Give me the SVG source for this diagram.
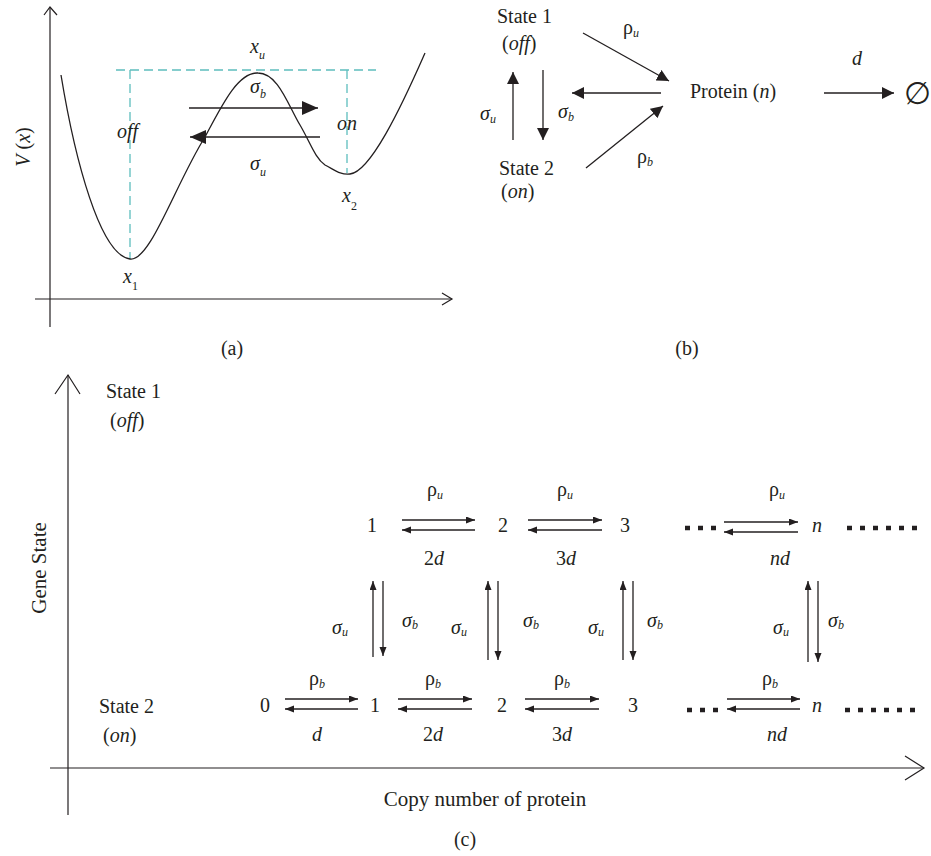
<svg xmlns="http://www.w3.org/2000/svg" width="931" height="856" viewBox="0 0 931 856">
<defs>
<style>
text{font-family:"Liberation Serif","DejaVu Serif",serif;font-size:20px;fill:#231f20}
.it{font-style:italic}
.sub{font-size:12px;font-style:italic}
.subn{font-size:12px;font-style:normal}
.mid{text-anchor:middle}
.big{font-size:21px}
.ln{stroke:#231f20;stroke-width:1.3;fill:none}
.ax{stroke:#231f20;stroke-width:1.2;fill:none}
.dash{stroke:#5dbdbd;stroke-width:1.3;fill:none;stroke-dasharray:9 5}
.dots{stroke:#231f20;stroke-width:4.5;stroke-dasharray:5 8;fill:none}
.hc{marker-end:url(#hc)}
.hb{marker-end:url(#hb)}
.ha{marker-end:url(#ha)}
</style>
<marker id="hc" markerUnits="userSpaceOnUse" markerWidth="10" markerHeight="8" refX="9" refY="3.5" orient="auto"><path d="M0,0 L9,3.5 L0,7 z" fill="#231f20"/></marker>
<marker id="hb" markerUnits="userSpaceOnUse" markerWidth="13" markerHeight="12" refX="12" refY="6" orient="auto"><path d="M0,0 L12,6 L0,12 z" fill="#231f20"/></marker>
<marker id="ha" markerUnits="userSpaceOnUse" markerWidth="17" markerHeight="15" refX="16" refY="7" orient="auto"><path d="M0,0 L16,7 L0,14 z" fill="#231f20"/></marker>
</defs>
<rect width="931" height="856" fill="#ffffff"/>

<!-- Panel (a) -->
<g id="panel-a">
  <g id="a-axes">
    <line class="ax" x1="50" y1="7" x2="50" y2="327"/>
    <polyline class="ax" points="44,15 50,7 57,15"/>
    <line class="ax" x1="35" y1="299" x2="452" y2="299"/>
    <polyline class="ax" points="442,293 452,299 442,305"/>
    <text transform="translate(30,147) rotate(-90)" class="mid"><tspan class="it">V</tspan> (<tspan class="it">x</tspan>)</text>
  </g>
  <g id="a-guides">
    <line class="dash" x1="116" y1="70" x2="376" y2="70"/>
    <line class="dash" x1="130" y1="70" x2="130" y2="259"/>
    <line class="dash" x1="347" y1="70" x2="347" y2="173"/>
  </g>
  <path id="a-potential" class="ln" d="M61,75 C75,160 100,255 130,259 C150,262 175,185 205,137 C222,105 238,72 258,73 C278,73 288,105 300,125 C310,142 315,158 325,165 C335,170 340,175 350,174 C370,172 400,110 425,53"/>
  <g id="a-arrows">
    <line class="ln ha" x1="189" y1="108" x2="318" y2="108"/>
    <line class="ln ha" x1="320" y1="137" x2="190" y2="137"/>
  </g>
  <text x="250" y="53"><tspan class="it">x</tspan><tspan class="sub" dy="6">u</tspan></text>
  <text x="250" y="93"><tspan class="it">σ</tspan><tspan class="sub" dy="5">b</tspan></text>
  <text x="250" y="170"><tspan class="it">σ</tspan><tspan class="sub" dy="6">u</tspan></text>
  <text x="117" y="138" class="it">off</text>
  <text x="337" y="130" class="it">on</text>
  <text x="342" y="202"><tspan class="it">x</tspan><tspan class="subn" dy="8">2</tspan></text>
  <text x="123" y="283"><tspan class="it">x</tspan><tspan class="subn" dy="7">1</tspan></text>
  <text x="232" y="355" class="mid">(a)</text>
</g>

<!-- Panel (b) -->
<g id="panel-b">
  <g id="b-state1"><text x="497" y="23">State 1</text><text x="502" y="50">(<tspan class="it">off</tspan>)</text></g>
  <g id="b-state2"><text x="499" y="175">State 2</text><text x="501" y="198">(<tspan class="it">on</tspan>)</text></g>
  <g id="b-protein"><text x="690" y="98">Protein (<tspan class="it">n</tspan>)</text></g>
  <g id="b-empty"><text x="917" y="104" class="mid" style="font-size:31px;font-family:'DejaVu Serif','Liberation Serif',serif">∅</text></g>
  <g id="b-connectors">
    <line class="ln hb" x1="583" y1="33" x2="669" y2="81"/>
    <line class="ln hb" x1="661" y1="93" x2="572" y2="93"/>
    <line class="ln hb" x1="586" y1="168" x2="663" y2="106"/>
    <line class="ln hb" x1="513" y1="140" x2="513" y2="72"/>
    <line class="ln hb" x1="543" y1="70" x2="543" y2="140"/>
    <line class="ln hb" x1="824" y1="93" x2="894" y2="93"/>
  </g>
  <text x="623" y="34">ρ<tspan class="sub" dy="3">u</tspan></text>
  <text x="637" y="163">ρ<tspan class="sub" dy="3">b</tspan></text>
  <text x="480" y="120"><tspan class="it">σ</tspan><tspan class="sub" dy="3">u</tspan></text>
  <text x="558" y="118"><tspan class="it">σ</tspan><tspan class="sub" dy="3">b</tspan></text>
  <text x="852" y="65" class="it">d</text>
  <text x="687" y="355" class="mid">(b)</text>
</g>

<!-- Panel (c) -->
<g id="panel-c">
  <g id="c-axes">
    <line class="ax" x1="68" y1="375" x2="68" y2="815"/>
    <polyline class="ax" points="55,394 68,375 80,394"/>
    <line class="ax" x1="50" y1="768" x2="924" y2="768"/>
    <polyline class="ax" points="905,756 924,768 905,780"/>
    <text transform="translate(46,568) rotate(-90)" class="mid big">Gene State</text>
    <text x="485" y="806" class="mid big">Copy number of protein</text>
  </g>
  <g id="c-state1"><text x="106" y="398">State 1</text><text x="110" y="427">(<tspan class="it">off</tspan>)</text></g>
  <g id="c-state2"><text x="99" y="713">State 2</text><text x="103" y="742">(<tspan class="it">on</tspan>)</text></g>

  <g id="c-top-nodes">
    <text x="372" y="532" class="mid">1</text>
    <text x="503" y="532" class="mid">2</text>
    <text x="625" y="532" class="mid">3</text>
    <text x="817" y="532" class="mid it">n</text>
  </g>
  <g id="c-bottom-nodes">
    <text x="265" y="712" class="mid">0</text>
    <text x="375" y="712" class="mid">1</text>
    <text x="502" y="712" class="mid">2</text>
    <text x="633" y="712" class="mid">3</text>
    <text x="817" y="712" class="mid it">n</text>
  </g>

  <g id="c-connectors">
    <line class="ln hc" x1="402" y1="520" x2="475" y2="520"/>
    <line class="ln hc" x1="475" y1="530" x2="402" y2="530"/>
    <line class="ln hc" x1="528" y1="520" x2="602" y2="520"/>
    <line class="ln hc" x1="602" y1="530" x2="528" y2="530"/>
    <line class="ln hc" x1="724" y1="522" x2="798" y2="522"/>
    <line class="ln hc" x1="798" y1="532" x2="724" y2="532"/>
    <line class="ln hc" x1="285" y1="699" x2="358" y2="699"/>
    <line class="ln hc" x1="358" y1="709" x2="285" y2="709"/>
    <line class="ln hc" x1="398" y1="699" x2="472" y2="699"/>
    <line class="ln hc" x1="472" y1="709" x2="398" y2="709"/>
    <line class="ln hc" x1="525" y1="699" x2="599" y2="699"/>
    <line class="ln hc" x1="599" y1="709" x2="525" y2="709"/>
    <line class="ln hc" x1="727" y1="699" x2="800" y2="699"/>
    <line class="ln hc" x1="800" y1="709" x2="727" y2="709"/>
    <line class="ln hc" x1="373" y1="657" x2="373" y2="581"/>
    <line class="ln hc" x1="383" y1="581" x2="383" y2="656"/>
    <line class="ln hc" x1="488" y1="660" x2="488" y2="581"/>
    <line class="ln hc" x1="498" y1="581" x2="498" y2="660"/>
    <line class="ln hc" x1="623" y1="660" x2="623" y2="581"/>
    <line class="ln hc" x1="633" y1="581" x2="633" y2="660"/>
    <line class="ln hc" x1="808" y1="662" x2="808" y2="581"/>
    <line class="ln hc" x1="818" y1="581" x2="818" y2="662"/>
    <line class="dots" x1="685" y1="528" x2="717" y2="528"/>
    <line class="dots" x1="847" y1="528" x2="917" y2="528"/>
    <line class="dots" x1="687" y1="710" x2="719" y2="710"/>
    <line class="dots" x1="845" y1="710" x2="915" y2="710"/>
  </g>

  <g id="c-labels">
    <text x="435" y="496" class="mid">ρ<tspan class="sub" dy="3">u</tspan></text>
    <text x="565" y="496" class="mid">ρ<tspan class="sub" dy="3">u</tspan></text>
    <text x="777" y="496" class="mid">ρ<tspan class="sub" dy="3">u</tspan></text>
    <text x="434" y="565" class="mid">2<tspan class="it">d</tspan></text>
    <text x="566" y="565" class="mid">3<tspan class="it">d</tspan></text>
    <text x="780" y="565" class="mid it">nd</text>

    <text x="317" y="685" class="mid">ρ<tspan class="sub" dy="3">b</tspan></text>
    <text x="433" y="685" class="mid">ρ<tspan class="sub" dy="3">b</tspan></text>
    <text x="562" y="685" class="mid">ρ<tspan class="sub" dy="3">b</tspan></text>
    <text x="770" y="685" class="mid">ρ<tspan class="sub" dy="3">b</tspan></text>
    <text x="317" y="741" class="mid it">d</text>
    <text x="433" y="741" class="mid">2<tspan class="it">d</tspan></text>
    <text x="562" y="741" class="mid">3<tspan class="it">d</tspan></text>
    <text x="777" y="741" class="mid it">nd</text>

    <text x="332" y="634"><tspan class="it">σ</tspan><tspan class="sub" dy="2">u</tspan></text>
    <text x="402" y="627"><tspan class="it">σ</tspan><tspan class="sub" dy="2">b</tspan></text>
    <text x="451" y="634"><tspan class="it">σ</tspan><tspan class="sub" dy="2">u</tspan></text>
    <text x="523" y="627"><tspan class="it">σ</tspan><tspan class="sub" dy="2">b</tspan></text>
    <text x="588" y="634"><tspan class="it">σ</tspan><tspan class="sub" dy="2">u</tspan></text>
    <text x="647" y="627"><tspan class="it">σ</tspan><tspan class="sub" dy="2">b</tspan></text>
    <text x="773" y="634"><tspan class="it">σ</tspan><tspan class="sub" dy="2">u</tspan></text>
    <text x="828" y="627"><tspan class="it">σ</tspan><tspan class="sub" dy="2">b</tspan></text>
  </g>
  <text x="465" y="846" class="mid">(c)</text>
</g>
</svg>
